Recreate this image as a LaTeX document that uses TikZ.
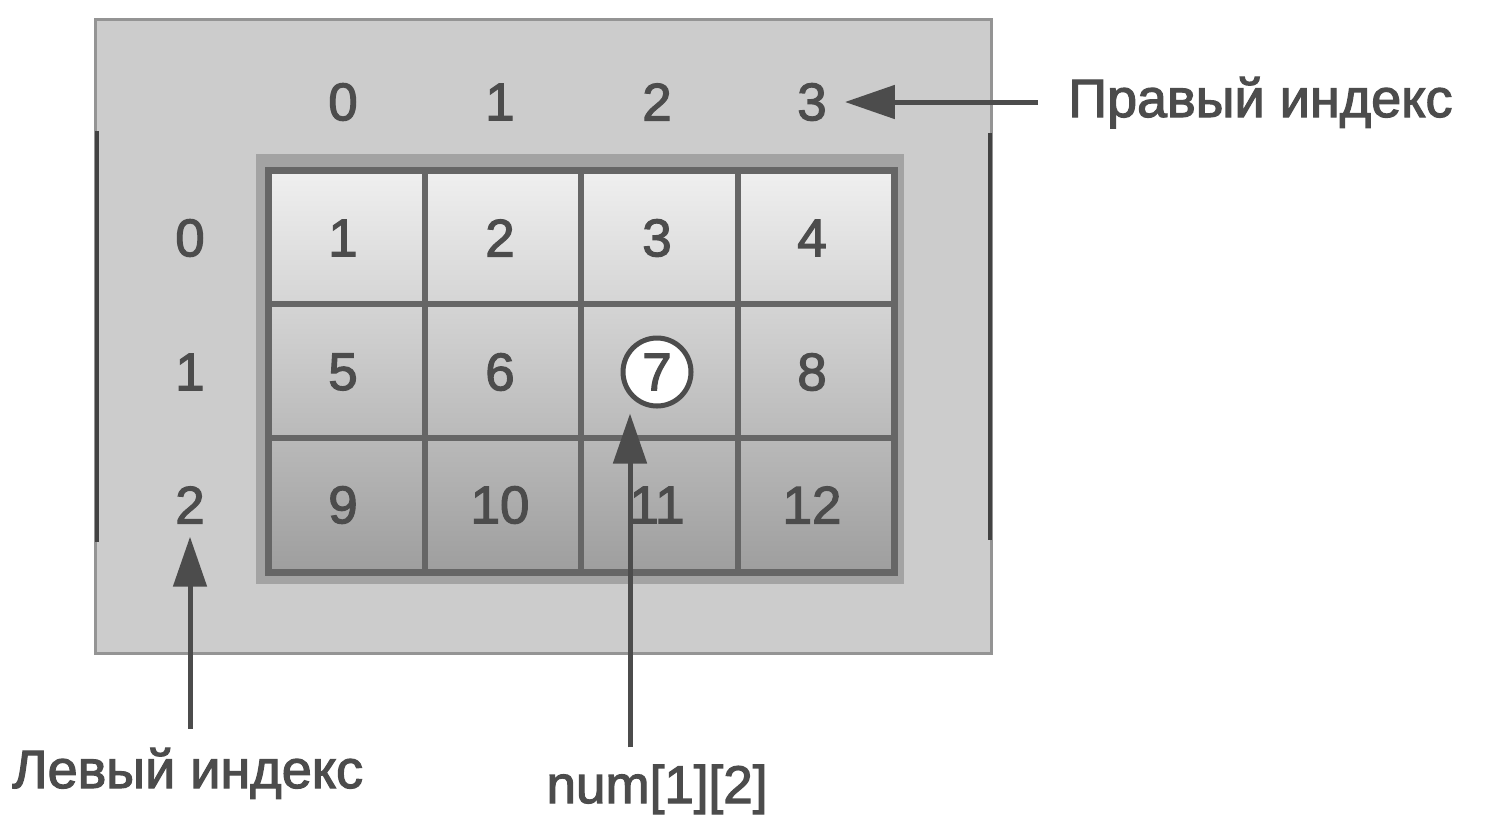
\documentclass[tikz,border=0pt]{standalone}
\usepackage{fontspec}
\setmainfont{Liberation Sans}
\newfontfamily\inkfont[FakeBold=2.2]{Liberation Sans}
\usetikzlibrary{arrows.meta,calc}

\definecolor{ink}{gray}{0.30}
\definecolor{panel}{gray}{0.80}
\definecolor{panelrule}{gray}{0.58}
\definecolor{edgebar}{gray}{0.26}
\definecolor{gridrule}{gray}{0.40}
\definecolor{framecol}{gray}{0.64}
\definecolor{celltop}{gray}{0.94}
\definecolor{cellbot}{gray}{0.62}

\begin{document}
\begin{tikzpicture}[x=1pt,y=-1pt,
  digit/.style={inner sep=0pt, text=ink, font=\inkfont\fontsize{53}{60}\selectfont},
  caption/.style={inner sep=0pt, anchor=base west, text=ink, font=\inkfont\fontsize{54}{62}\selectfont},
  pointer/.style={draw=ink, line width=5pt, -{Triangle[length=50pt,width=33pt]}},
  marked/.style={digit, circle, fill=white, draw=ink, line width=5pt, minimum size=68pt},
]
\useasboundingbox (0,0) rectangle (1511,839);
\fill[white] (0,0) rectangle (1511,839);

% outer panel with its two dark side bars
\draw[panelrule, line width=3pt, fill=panel] (95,19) rectangle (991,653);
\draw[edgebar, line width=4pt] (97,131) -- (97,542);
\draw[edgebar, line width=4pt] (990,133) -- (990,540);

% array frame, shaded cells and grid rules
\fill[framecol] (256,154) rectangle (904,584);
\shade[top color=celltop, bottom color=cellbot] (268,170) rectangle (894,572);
\draw[gridrule, line width=7pt] (268,170) rectangle (894,572);
\foreach \x in {424.5,581,737.5}
  \draw[gridrule, line width=6pt] (\x,170) -- (\x,572);
\foreach \y in {304,438}
  \draw[gridrule, line width=6pt] (268,\y) -- (894,\y);

% column and row indices
\foreach \c/\x in {0/343,1/500,2/657,3/812}
  \node[digit] (col\c) at (\x,102) {\c};
\foreach \r/\y in {0/238,1/372,2/505}
  \node[digit] (row\r) at (190,\y) {\r};

% element values
\foreach \r/\y in {0/238,1/372,2/505}
  \foreach \c/\x in {0/343,1/500,2/657,3/812} {
    \pgfmathtruncatemacro{\val}{4*\r+\c+1}
    \ifnum\val=7\relax
      \node[marked] (cell-\r-\c) at (\x,\y) {\val};
    \else
      \node[digit] (cell-\r-\c) at (\x,\y) {\val};
    \fi
  }

% captions
\node[caption] (rightlabel) at (1068,117) {Правый индекс};
\node[caption] (leftlabel) at (12,788) {Левый индекс};
\node[caption, font=\inkfont\fontsize{53}{60}\selectfont, anchor=base] (numlabel) at (657,803) {num[1][2]};

% pointers
\draw[pointer] ($(rightlabel.west |- col3.east)+(-30,0)$) -- ($(col3.east)+(18,0)$);
\draw[pointer] ($(row2.south |- leftlabel.north)+(0,-19)$) -- ($(row2.south)+(0,13)$);
\draw[pointer] ($(numlabel.north)+(-27,-17)$) -- ($(cell-1-2.south)+(-27,5)$);
\end{tikzpicture}
\end{document}
